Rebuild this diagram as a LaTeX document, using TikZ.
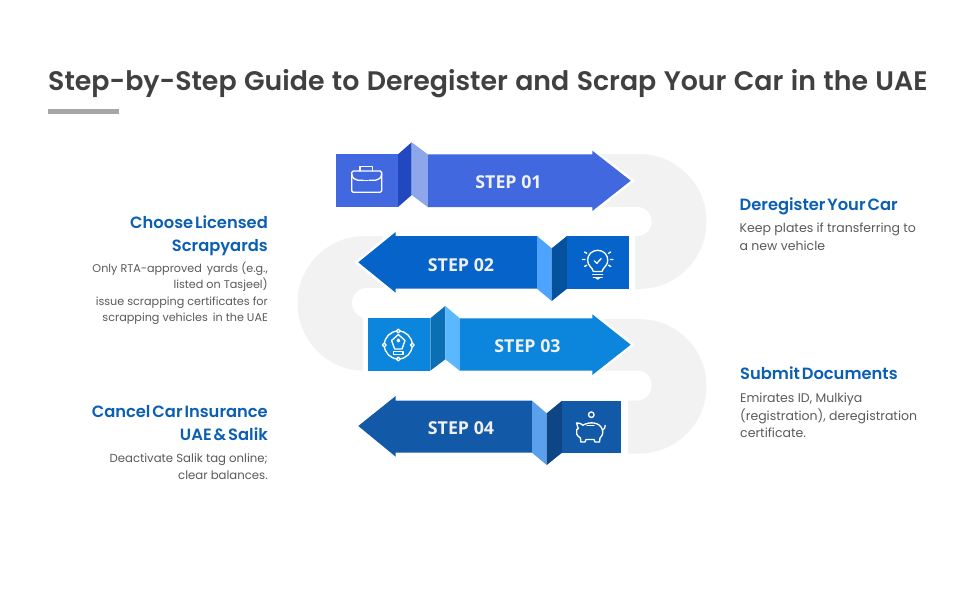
\documentclass[tikz,border=0pt]{standalone}
\usepackage{fontspec}
\setmainfont{Poppins}
\newfontfamily\titlefont{Poppins SemiBold}
\newfontfamily\headfont[WordSpace=0.5]{Poppins SemiBold}
\newfontfamily\stepfont[BoldFont=Open Sans Bold]{Open Sans}
\definecolor{band}{HTML}{F2F2F2}
\definecolor{ink}{HTML}{404040}
\definecolor{bodyink}{HTML}{5A5A5A}
\definecolor{headblue}{HTML}{0A5FB4}
\definecolor{a1}{HTML}{4268DF}\definecolor{d1}{HTML}{2248C0}\definecolor{l1}{HTML}{8EA6EA}
\definecolor{a2}{HTML}{0563C9}\definecolor{d2}{HTML}{04529E}\definecolor{l2}{HTML}{4CA4FF}
\definecolor{a3}{HTML}{0B86DC}\definecolor{d3}{HTML}{0A6FB5}\definecolor{l3}{HTML}{5AB8FF}
\definecolor{a4}{HTML}{1259A8}\definecolor{d4}{HTML}{0E4585}\definecolor{l4}{HTML}{5AA0EC}
\tikzset{
  halo/.style={draw=white,line width=5pt,line join=miter,fill=white},
  steplabel/.style={text=white!94!black,font=\stepfont\bfseries\fontsize{17.8}{20}\selectfont,inner sep=0pt},
  heading/.style={anchor=base east,inner sep=0pt,text=headblue,font=\headfont\fontsize{16.3}{18}\selectfont},
  headingl/.style={anchor=base west,inner sep=0pt,text=headblue,font=\headfont\fontsize{16.3}{18}\selectfont},
  bodyr/.style={anchor=base east,inner sep=0pt,text=bodyink,font=\fontsize{11.2}{14}\selectfont},
  bodyl/.style={anchor=base west,inner sep=0pt,text=bodyink,font=\fontsize{12.5}{15}\selectfont},
  icon/.style={draw=white,line width=1.35pt,line cap=round,line join=round},
}
\begin{document}
\begin{tikzpicture}[x=1pt,y=-1pt]
\useasboundingbox (0,0) rectangle (960,600);
\fill[white] (0,0) rectangle (960,600);
% title
\node[anchor=base west,inner sep=0pt,text=ink,font=\titlefont\fontsize{26.8}{30}\selectfont] (title) at (48,90) {\spaceskip=7.4pt\relax Step-by-Step Guide to Deregister and Scrap Your Car in the UAE};
\fill[black!35] (48,109) rectangle (119,114);
% grey bands
\fill[band] (600,154) -- (639,154) .. controls (676.3,154) and (706.5,184.2) .. (706.5,221.5) .. controls (706.5,258.8) and (676.3,289) .. (639,289) -- (635,289) -- (635,221) -- (600,221) -- cycle;
\fill[band] (600,319) -- (639,319) .. controls (676.3,319) and (706.5,349) .. (706.5,386) .. controls (706.5,423.3) and (676.3,453.5) .. (639,453.5) -- (628,453.5) -- (628,386) -- (600,386) -- cycle;
\fill[band] (383,236) -- (365,236) .. controls (327.7,236) and (297.5,266) .. (297.5,303) .. controls (297.5,340.3) and (327.7,370.5) .. (363,370.5) -- (363,303) -- (383,303) -- cycle;
\fill[white] (590,207) -- (637.2,207) .. controls (645.2,207) and (651.7,213.5) .. (651.7,221.5) .. controls (651.7,229.5) and (645.2,236) .. (637.2,236) -- (590,236) -- cycle;
\fill[white] (590,370.5) -- (637.2,370.5) .. controls (645.2,370.5) and (651.7,377.2) .. (651.7,385.5) .. controls (651.7,393.8) and (645.2,400.5) .. (637.2,400.5) -- (590,400.5) -- cycle;
\fill[white] (400,288) -- (367,288) .. controls (358.7,288) and (352,294.7) .. (352,303) .. controls (352,311.3) and (358.7,318) .. (367,318) -- (400,318) -- cycle;
% step 1
\path[halo] (592.3,150.7) -- (630.7,180.7) -- (592.3,211) -- (592.3,207) -- (427.7,207) -- (427.7,154) -- (592.3,154) -- cycle;
\fill[a1] (335.7,154.3) rectangle (398,207);
\fill[d1] (398,154.3) -- (411.7,142.3) -- (411.7,195) -- (398,207) -- cycle;
\fill[l1] (411.7,142.3) -- (427.7,154.3) -- (427.7,207) -- (411.7,195) -- cycle;
\fill[a1] (427.7,154.3) -- (592.3,154.3) -- (592.3,150.7) -- (630.7,180.7) -- (592.3,211) -- (592.3,207) -- (427.7,207) -- cycle;
\node[steplabel] (s1) at (508.5,182.5) {STEP 01};
% step 2
\path[halo] (358.3,262.3) -- (395.7,232) -- (395.7,236) -- (537,236) -- (537,288.7) -- (395.7,288.7) -- (395.7,292.7) -- cycle;
\path[halo] (537,236) -- (551.7,248.3) -- (567,236) -- (629,236) -- (629,288.7) -- (567,288.7) -- (551.7,301) -- (537,288.7) -- cycle;
\fill[a2] (358.3,262.3) -- (395.7,232) -- (395.7,236) -- (537,236) -- (537,288.7) -- (395.7,288.7) -- (395.7,292.7) -- cycle;
\fill[l2] (537,236) -- (551.7,248.3) -- (551.7,301) -- (537,288.7) -- cycle;
\fill[d2] (551.7,248.3) -- (567,236) -- (567,288.7) -- (551.7,301) -- cycle;
\fill[a2] (567,236) rectangle (629,288.7);
\node[steplabel] (s2) at (461,265) {STEP 02};
% step 3
\path[halo] (592.3,314.3) -- (630.7,344.7) -- (592.3,375) -- (592.3,370.7) -- (459.7,370.7) -- (459.7,318.3) -- (592.3,318.3) -- cycle;
\fill[a3] (368,318.3) rectangle (430.3,370.7);
\fill[d3] (430.3,318.3) -- (445.3,306) -- (445.3,359.3) -- (430.3,370.7) -- cycle;
\fill[l3] (445.3,306) -- (459.7,318.3) -- (459.7,370.7) -- (445.3,359.3) -- cycle;
\fill[a3] (459.7,318.3) -- (592.3,318.3) -- (592.3,314.3) -- (630.7,344.7) -- (592.3,375) -- (592.3,370.7) -- (459.7,370.7) -- cycle;
\node[steplabel] (s3) at (527.5,346.5) {STEP 03};
% step 4
\path[halo] (358.3,426) -- (395.7,396) -- (395.7,400.7) -- (532,400.7) -- (532,452.7) -- (395.7,452.7) -- (395.7,456.7) -- cycle;
\path[halo] (532,400.7) -- (546.7,413.3) -- (562,400.7) -- (621,400.7) -- (621,452.7) -- (562,452.7) -- (546.7,465) -- (532,452.7) -- cycle;
\fill[a4] (358.3,426) -- (395.7,396) -- (395.7,400.7) -- (532,400.7) -- (532,452.7) -- (395.7,452.7) -- (395.7,456.7) -- cycle;
\fill[l4] (532,400.7) -- (546.7,413.3) -- (546.7,465) -- (532,452.7) -- cycle;
\fill[d4] (546.7,413.3) -- (562,400.7) -- (562,452.7) -- (546.7,465) -- cycle;
\fill[a4] (562,400.7) rectangle (621,452.7);
\node[steplabel] (s4) at (461,428.5) {STEP 04};
% briefcase
\draw[icon,rounded corners=1.5pt] (351.7,171) rectangle (381.7,192.3);
\draw[icon] (351.7,174) .. controls (352,178) and (355,180) .. (358,180.3) -- (363.5,180.3);
\draw[icon] (381.7,174) .. controls (381.4,178) and (378.4,180) .. (375.4,180.3) -- (369,180.3);
\draw[icon] (364.6,180.6) -- (368,180.6);
\draw[icon] (360,171) -- (360,166.3) -- (372.3,166.3) -- (372.3,171);
% bulb
\draw[icon] (593.3,271.5) .. controls (592.8,267.5) and (587.6,266) .. (587.6,260.3) .. controls (587.6,254.5) and (592,250.3) .. (597.7,250.3) .. controls (603.4,250.3) and (607.8,254.5) .. (607.8,260.3) .. controls (607.8,266) and (602.6,267.5) .. (602.1,271.5) -- cycle;
\draw[icon] (592.8,274.5) -- (602.6,274.5) (593.3,277.3) -- (602.1,277.3);
\draw[icon] (595.5,277.5) -- (597.7,279) -- (600,277.5);
\draw[icon] (594.3,260.8) -- (596.8,263.3) -- (601.2,258.5);
\draw[icon] (582.5,259.5) -- (585,259.5) (610.5,259.5) -- (613,259.5)
  (584.5,252) -- (586.8,253.3) (610.8,252) -- (608.5,253.3)
  (584.5,266.5) -- (586.8,265.2) (610.8,266.5) -- (608.5,265.2);
% pen tool
\draw[icon] (398.3,345) circle (14);
\foreach \p in {(398.3,331),(398.3,359),(384.3,345),(412.3,345)}
  \draw[icon,fill=a3] \p circle (1.9);
\draw[icon] (398.3,334.5) -- (405,340.5) -- (402,349) -- (394.6,349) -- (391.6,340.5) -- cycle;
\draw[icon] (398.3,340.5) circle (1.3);
\draw[icon] (393.6,351.2) rectangle (403,354.8);
% piggy
\draw[icon] (591.3,414.7) circle (2.8);
\draw[icon] (576.5,423) .. controls (580,423) and (581.5,424) .. (583,425.2) .. controls (589,421.5) and (600,421.5) .. (602.5,430) .. controls (603.8,434) and (601,437) .. (600,438) -- (599.5,442) -- (595,442) -- (594,439.5) -- (586,439.5) -- (585,442) -- (580.8,442) -- (580.5,438) .. controls (578.5,437) and (577.5,435.5) .. (577,434.5) -- (576.7,434) -- (576.7,429.5) -- (578.3,428.7) -- cycle;
\draw[icon] (602.5,430) .. controls (604.3,429.5) and (605.2,427.5) .. (605.2,425.5);
\draw[icon] (587,425.5) -- (594,425.5);
% left texts
\node[heading] (h3) at (268,228.5) {Choose Licensed};
\node[heading] (h3b) at (268,251.5) {Scrapyards};
\node[bodyr] (b3a) at (268,272) {Only RTA-approved\, yards (e.g.,};
\node[bodyr] (b3b) at (268,288.5) {listed on Tasjeel)};
\node[bodyr] (b3c) at (268,305) {issue scrapping certificates for};
\node[bodyr] (b3d) at (268,321.5) {scrapping vehicles\, in the UAE};
\node[heading] (h4) at (268,417.5) {Cancel Car Insurance};
\node[heading] (h4b) at (268,440.5) {UAE \& Salik};
\node[bodyr,font=\fontsize{11.7}{14}\selectfont] (b4a) at (268,462) {Deactivate Salik tag online;};
\node[bodyr,font=\fontsize{11.7}{14}\selectfont] (b4b) at (268,479) {clear balances.};
% right texts
\node[headingl] (h1) at (739.5,210.5) {Deregister Your Car};
\node[bodyl] (b1a) at (739.5,232) {Keep plates if transferring to};
\node[bodyl] (b1b) at (739.5,250) {a new vehicle};
\node[headingl] (h2) at (740,379.5) {Submit Documents};
\node[bodyl] (b2a) at (740,402) {Emirates ID, Mulkiya};
\node[bodyl] (b2b) at (740,420) {(registration), deregistration};
\node[bodyl] (b2c) at (740,437.5) {certificate.};
\end{tikzpicture}
\end{document}
